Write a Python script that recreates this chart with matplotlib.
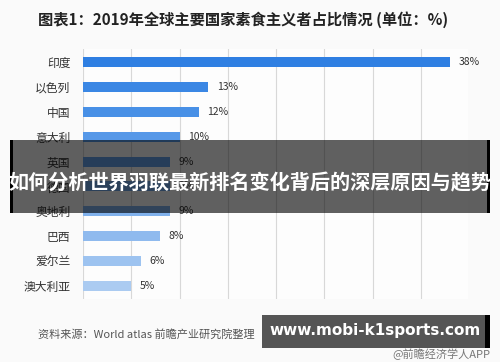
import matplotlib
matplotlib.use("Agg")
import matplotlib.pyplot as plt
from matplotlib.patches import Rectangle

plt.rcParams['font.family'] = ['Noto Sans CJK SC', 'DejaVu Sans']

# data
countries = ["印度", "以色列", "中国", "意大利", "英国", "德国", "奥地利", "巴西", "爱尔兰", "澳大利亚"]
values = [38, 13, 12, 10, 9, 9, 9, 8, 6, 5]
colors = ["#2f7fe2", "#3b87e4", "#4890e6", "#5698e8", "#64a0ea", "#72a9eb",
          "#80b1ec", "#8fbaee", "#9dc3f0", "#abcbf1"]
ticks = [0, 5, 10, 15, 20, 25, 30, 35, 40]

title = "图表1：2019年全球主要国家素食主义者占比情况 (单位：%)"
source = "资料来源：World atlas 前瞻产业研究院整理"
banner = "如何分析世界羽联最新排名变化背后的深层原因与趋势"
site = "www.mobi-k1sports.com"

fig = plt.figure(figsize=(5, 3.62), dpi=100)
fig.patch.set_facecolor("#fafafa")

ax = fig.add_axes([0.166, 0.1754, 0.772, 0.688])
ax.set_facecolor("#fdfdfd")
y = list(range(len(countries)))
ax.barh(y, values, height=0.4, color=colors, zorder=3)
ax.set_xlim(0, 40)
ax.set_ylim(len(countries) - 0.5, -0.5)
ax.set_xticks(ticks)
ax.set_xticklabels([])
ax.tick_params(length=0)
ax.grid(axis="x", color="#d8d8d8", linewidth=0.8, zorder=0)
for s in ax.spines.values():
    s.set_visible(False)
ax.set_yticks(y)
ax.set_yticklabels(countries, fontsize=8.5, color="#333333")
ax.tick_params(axis="y", pad=9)
for i, v in enumerate(values):
    ax.text(v + 0.9, i, f"{v}%", va="center", ha="left", fontsize=7.5, color="#333333", zorder=4)

fig.text(0.076, 0.945, title, fontsize=11, fontweight="bold", color="#222222", va="center", ha="left")
fig.text(0.076, 0.075, source, fontsize=8, color="#555555", va="center", ha="left")
fig.text(0.98, 0.022, "@前瞻经济学人APP", fontsize=8, color="#777777", va="center", ha="right")

# overlay banner
fig.patches.append(Rectangle((0.02, 0.412), 0.96, 0.2, transform=fig.transFigure,
                             facecolor="black", alpha=0.62, zorder=10))
fig.patches.append(Rectangle((0.02, 0.412), 0.006, 0.2, transform=fig.transFigure,
                             facecolor="black", zorder=11))
fig.patches.append(Rectangle((0.974, 0.412), 0.006, 0.2, transform=fig.transFigure,
                             facecolor="black", zorder=11))
fig.text(0.5, 0.495, banner, fontsize=14.5, fontweight="bold", color="white",
         va="center", ha="center", zorder=12)

# site label
fig.patches.append(Rectangle((0.524, 0.04), 0.456, 0.09, transform=fig.transFigure,
                             facecolor="#555555", zorder=10))
fig.patches.append(Rectangle((0.97, 0.04), 0.01, 0.09, transform=fig.transFigure,
                             facecolor="black", zorder=11))
fig.text(0.75, 0.087, site, fontsize=11, fontweight="bold", color="white",
         va="center", ha="center", zorder=12, family="DejaVu Sans")

fig.savefig("out.png", dpi=100, facecolor=fig.get_facecolor())
